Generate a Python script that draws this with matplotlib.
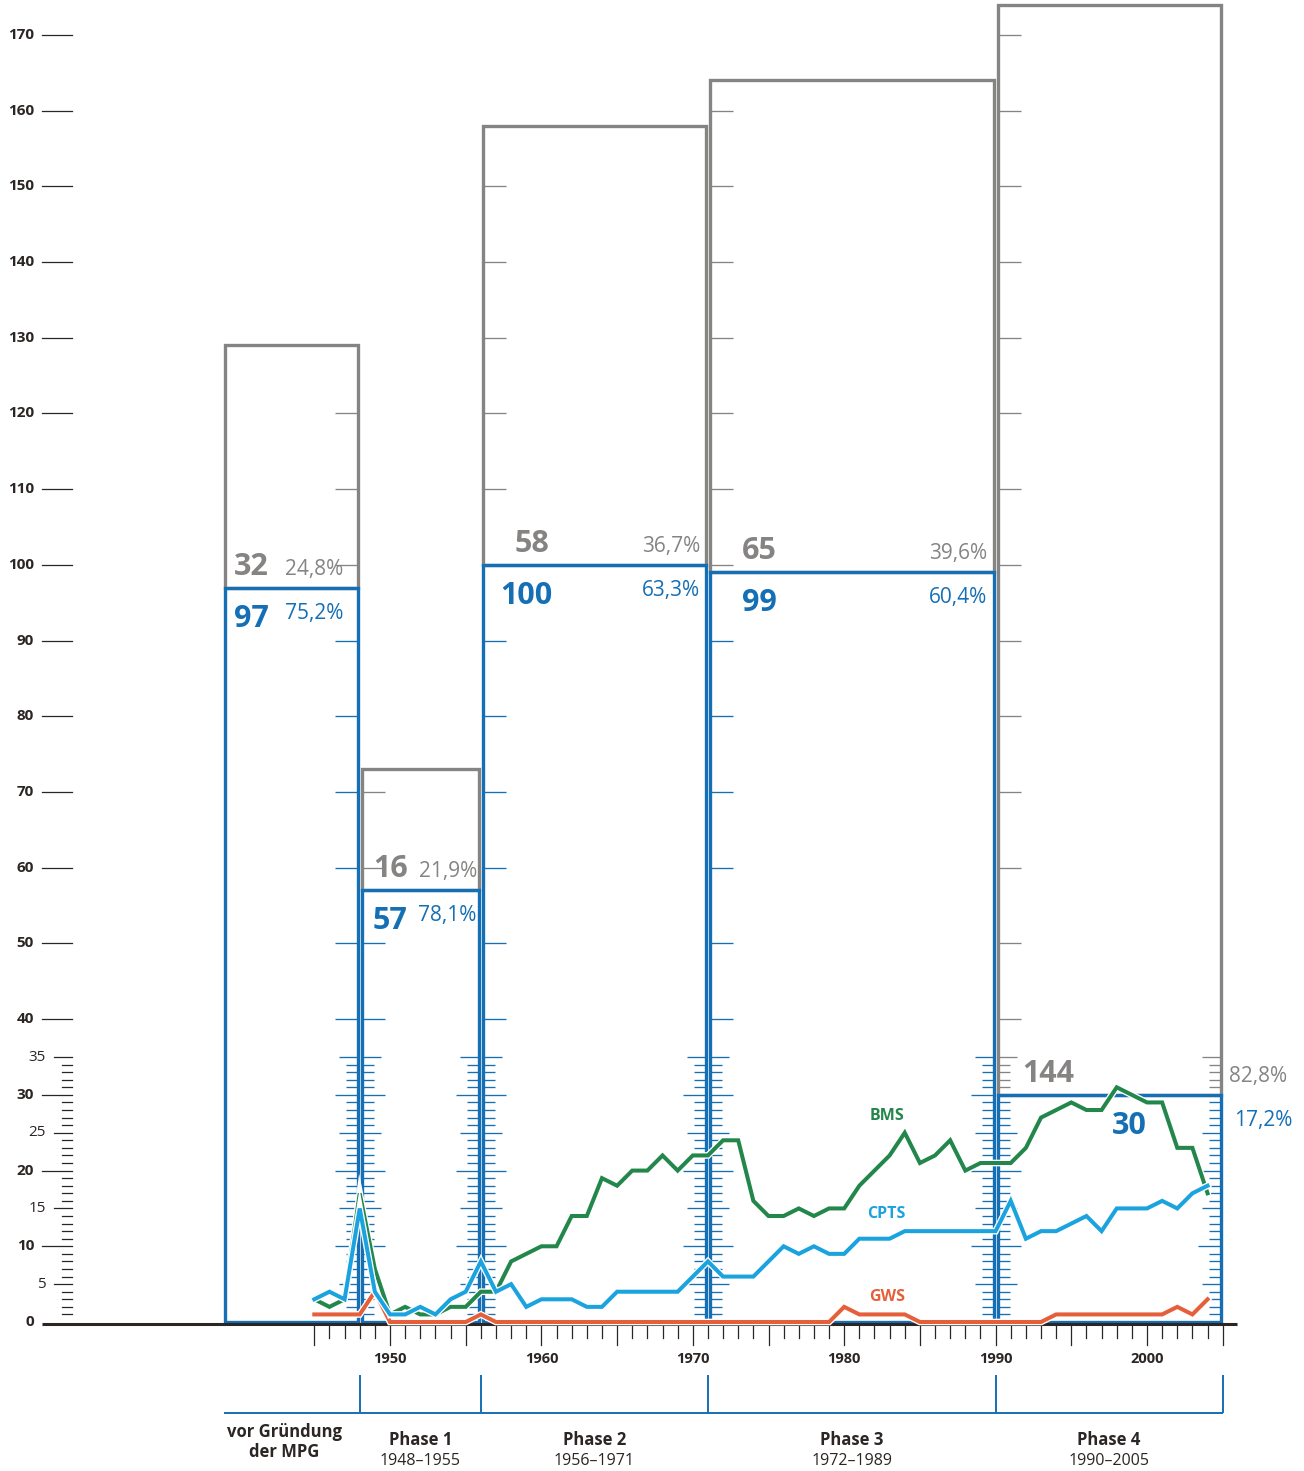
import matplotlib
matplotlib.use('Agg')
import matplotlib.pyplot as plt
from matplotlib.patches import Rectangle
import matplotlib.patheffects as pe

plt.rcParams['font.family'] = ['Open Sans', 'DejaVu Sans']

# data
years = list(range(1945, 2005))
bms = [3, 2, 3, 17, 7, 1, 2, 1, 1, 2,
       2, 4, 4, 8, 9, 10, 10, 14, 14, 19,
       18, 20, 20, 22, 20, 22, 22, 24, 24, 16,
       14, 14, 15, 14, 15, 15, 18, 20, 22, 25,
       21, 22, 24, 20, 21, 21, 21, 23, 27, 28,
       29, 28, 28, 31, 30, 29, 29, 23, 23, 17]
cpts = [3, 4, 3, 15, 4, 1, 1, 2, 1, 3,
        4, 8, 4, 5, 2, 3, 3, 3, 2, 2,
        4, 4, 4, 4, 4, 6, 8, 6, 6, 6,
        8, 10, 9, 10, 9, 9, 11, 11, 11, 12,
        12, 12, 12, 12, 12, 12, 16, 11, 12, 12,
        13, 14, 12, 15, 15, 15, 16, 15, 17, 18]
gws = [1, 1, 1, 1, 4, 0, 0, 0, 0, 0,
       0, 1, 0, 0, 0, 0, 0, 0, 0, 0,
       0, 0, 0, 0, 0, 0, 0, 0, 0, 0,
       0, 0, 0, 0, 0, 2, 1, 1, 1, 1,
       0, 0, 0, 0, 0, 0, 0, 0, 0, 1,
       1, 1, 1, 1, 1, 1, 1, 2, 1, 3]

phase_names = ['vor Gründung\nder MPG', 'Phase 1', 'Phase 2', 'Phase 3', 'Phase 4']
phase_ranges = ['', '1948–1955', '1956–1971', '1972–1989', '1990–2005']
phase_start = [1939, 1948, 1956, 1971, 1990]
phase_end = [1948, 1956, 1971, 1990, 2005]
blue_counts = [97, 57, 100, 99, 30]
gray_counts = [32, 16, 58, 65, 144]
blue_pct = ['75,2%', '78,1%', '63,3%', '60,4%', '17,2%']
gray_pct = ['24,8%', '21,9%', '36,7%', '39,6%', '82,8%']

GRAY = '#868483'
BLUE = '#146fb5'
LBLUE = '#1aa3df'
GREEN = '#23874b'
ORANGE = '#e5603a'
DARK = '#2b2523'

# pixel <-> data helpers (layout only)
PXY = 15.14   # px per year
PXV = 7.571   # px per unit


def X(px):
    return 1950 + (px - 390) / PXY


def Y(py):
    return (1322 - py) / PXV


def dx(px):
    return px / PXY


def dy(px):
    return px / PXV


fig = plt.figure(figsize=(13.04, 14.71), dpi=100)
ax = fig.add_axes([0, 0, 1, 1])
ax.set_xlim(X(0), X(1304))
ax.set_ylim(Y(1471), Y(0))
ax.axis('off')

LW = 2.4
gap = dx(2)

# bars (gray = upper part, blue = lower part)
for i in range(5):
    x0 = phase_start[i] + gap
    x1 = phase_end[i] - gap
    b = blue_counts[i]
    g = gray_counts[i]
    ax.add_patch(Rectangle((x0, b), x1 - x0, g, fill=False, ec=GRAY, lw=LW,
                           joinstyle='miter', zorder=2))
    ax.add_patch(Rectangle((x0, 0), x1 - x0, b, fill=False, ec=BLUE, lw=LW,
                           joinstyle='miter', zorder=3))


def ruler_tick(x, v, length, direction, bar):
    col = BLUE if v <= blue_counts[bar] else GRAY
    ax.plot([x, x + direction * dx(length)], [v, v], color=col, lw=0.95,
            solid_capstyle='butt', zorder=1.5)


def tick_len(v):
    if v % 10 == 0:
        return 23
    if v % 5 == 0:
        return 19
    return 12


# dense rulers below 35 at phase boundaries
for i in range(5):
    for v in range(1, 36):
        ruler_tick(phase_end[i] - gap, v, tick_len(v), -1, i)
        if i < 4:
            ruler_tick(phase_start[i + 1] + gap, v, tick_len(v), 1, i + 1)

# sparse rulers above 35
for i in range(1, 5):
    top = blue_counts[i] + gray_counts[i]
    for v in range(40, 180, 10):
        if v < top:
            ruler_tick(phase_start[i] + gap, v, 23, 1, i)
for v in range(40, 180, 10):
    if v < blue_counts[0] + gray_counts[0]:
        ruler_tick(phase_end[0] - gap, v, 23, -1, 0)

# left value axis
for v in range(40, 171, 10):
    ax.plot([X(42), X(72)], [v, v], color=DARK, lw=0.9, zorder=2)
    ax.text(X(34), v, str(v), ha='right', va='center', fontsize=11,
            fontweight='bold', color=DARK)
for v in range(0, 36):
    if v % 10 == 0:
        if v > 0:
            ax.plot([X(42), X(72)], [v, v], color=DARK, lw=0.9, zorder=2)
        ax.text(X(34), v, str(v), ha='right', va='center', fontsize=11,
                fontweight='bold', color=DARK)
    elif v % 5 == 0:
        ax.plot([X(54), X(72)], [v, v], color=DARK, lw=0.9, zorder=2)
        ax.text(X(46), v, str(v), ha='right', va='center', fontsize=11,
                color=DARK)
    else:
        ax.plot([X(62), X(72)], [v, v], color=DARK, lw=0.9, zorder=2)

# x axis
ax.plot([X(42), X(1237)], [Y(1323.5), Y(1323.5)], color=DARK, lw=2.2,
        solid_capstyle='butt', zorder=4)
for yr in range(1945, 2006):
    end = 1345 if yr % 5 == 0 else 1338
    ax.plot([yr, yr], [Y(1324), Y(end)], color=DARK, lw=0.9, zorder=4)
for yr in range(1950, 2001, 10):
    ax.text(yr, Y(1359), str(yr), ha='center', va='center', fontsize=10.5,
            fontweight='bold', color=DARK)

# phase brackets
ax.plot([X(224), phase_end[-1]], [Y(1412.5), Y(1412.5)], color=BLUE, lw=1.4,
        solid_capstyle='butt')
for e in phase_end:
    ax.plot([e, e], [Y(1375), Y(1412.5)], color=BLUE, lw=1.4,
            solid_capstyle='butt')
for i in range(5):
    mid = (phase_start[i] + phase_end[i]) / 2
    if i == 0:
        ax.text(mid - 0.5, Y(1442), phase_names[i], ha='center', va='center',
                fontsize=12, fontweight='bold', color=DARK, linespacing=1.2)
    else:
        ax.text(mid, Y(1440), phase_names[i], ha='center', va='center',
                fontsize=12, fontweight='bold', color=DARK)
        ax.text(mid, Y(1461), phase_ranges[i], ha='center', va='center',
                fontsize=11.5, color=DARK)

# count / share labels
gray_cx = [234, 373, 515, 742, 1022]
blue_cx = [234, 373, 500, 742, 1112]
gray_px = [(285, 'left'), (419, 'left'), (700, 'right'), (987, 'right'), (1229, 'left')]
blue_px = [(285, 'left'), (418, 'left'), (700, 'right'), (987, 'right'), (1234, 'left')]
for i in range(5):
    b = blue_counts[i]
    ax.text(X(gray_cx[i]), b + dy(13), str(gray_counts[i]), ha='left',
            va='baseline', fontsize=22, fontweight='bold', color=GRAY, zorder=7)
    ax.text(X(gray_px[i][0]), b + dy(13), gray_pct[i], ha=gray_px[i][1],
            va='baseline', fontsize=15, color=GRAY, zorder=7)
    ax.text(X(blue_cx[i]), b - dy(39), str(b), ha='left', va='baseline',
            fontsize=22, fontweight='bold', color=BLUE, zorder=7)
    ax.text(X(blue_px[i][0]), b - dy(31), blue_pct[i], ha=blue_px[i][1],
            va='baseline', fontsize=15, color=BLUE, zorder=7)

# series lines
halo = [pe.Stroke(linewidth=4.8, foreground='white'), pe.Normal()]
for s, c in [(gws, ORANGE), (bms, GREEN), (cpts, LBLUE)]:
    ax.plot(years, s, color=c, lw=2.9, solid_joinstyle='miter',
            path_effects=halo, zorder=6)

ax.text(X(887), Y(1116), 'BMS', ha='center', va='center', fontsize=11.5,
        fontweight='bold', color=GREEN)
ax.text(X(886), Y(1214), 'CPTS', ha='center', va='center', fontsize=11.5,
        fontweight='bold', color=LBLUE)
ax.text(X(887), Y(1297), 'GWS', ha='center', va='center', fontsize=11.5,
        fontweight='bold', color=ORANGE)

fig.savefig('out.png', dpi=100)
